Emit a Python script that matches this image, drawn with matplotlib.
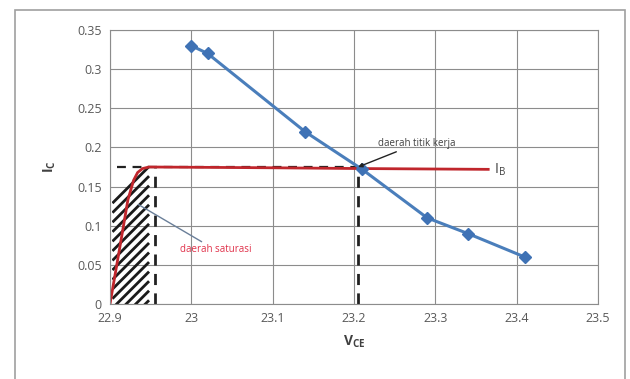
import numpy as np
import matplotlib.pyplot as plt
from matplotlib.patches import Rectangle

# load line points (Vce, Ic)
vce = [23.0, 23.02, 23.14, 23.21, 23.29, 23.34, 23.41]
ic = [0.33, 0.32, 0.22, 0.172, 0.11, 0.09, 0.06]

# base current curve
ib_vce = [22.9, 22.912, 22.922, 22.929, 22.934, 22.94, 22.948, 23.1, 23.21, 23.365]
ib_ic = [0.0, 0.072, 0.133, 0.158, 0.168, 0.173, 0.175, 0.174, 0.173, 0.172]

# operating point
q_vce = 23.205
q_ic = 0.175
sat_vce = 22.955

x_ticks = [22.9, 23.0, 23.1, 23.2, 23.3, 23.4, 23.5]
x_labels = ['22.9', '23', '23.1', '23.2', '23.3', '23.4', '23.5']
y_ticks = [0, 0.05, 0.1, 0.15, 0.2, 0.25, 0.3, 0.35]
y_labels = ['0', '0.05', '0.1', '0.15', '0.2', '0.25', '0.3', '0.35']


def main():
    plt.rcParams['font.family'] = ['Open Sans', 'DejaVu Sans']
    plt.rcParams['mathtext.default'] = 'regular'
    fig = plt.figure(figsize=(6.3, 3.79), dpi=100)
    fig.patches.append(Rectangle((15 / 630, -0.05), 610 / 630, 1 - 10 / 379 + 0.05,
                                 transform=fig.transFigure, fill=False,
                                 edgecolor='#a0a0a0', linewidth=1.2))
    ax = fig.add_axes([110 / 630, 75 / 379, 488 / 630, 274 / 379])

    ax.set_xlim(22.9, 23.5)
    ax.set_ylim(0, 0.35)
    ax.set_xticks(x_ticks, x_labels)
    ax.set_yticks(y_ticks, y_labels)
    ax.tick_params(colors='#595959', labelsize=9, length=0, pad=6)
    ax.grid(True, color='#8c8c8c', linewidth=0.8)
    ax.set_axisbelow(True)
    for s in ax.spines.values():
        s.set_color('#8c8c8c')
        s.set_linewidth(0.8)

    # hatched saturation region: 45 degree strokes, cut at the bottom axis
    box = Rectangle((22.902, 0.0), 0.047, 0.2, facecolor='none', linewidth=0)
    ax.add_patch(box)
    slope = (488 / 0.6) / (274 / 0.35)
    hx = np.array([22.903, 22.948])
    for off in np.arange(-0.042, 0.135, 0.0122):
        ln, = ax.plot(hx, off + (hx - hx[0]) * slope, color='#1a1a1a', lw=2.0,
                      solid_capstyle='butt')
        ln.set_clip_path(box)

    # dashed guide lines
    ax.plot([22.909, q_vce], [q_ic, q_ic], color='#222222', lw=1.6, ls=(0, (4, 3)))
    ax.plot([sat_vce, sat_vce], [0, q_ic], color='#222222', lw=2, ls=(0, (4, 3)))
    ax.plot([q_vce, q_vce], [0, q_ic], color='#222222', lw=2, ls=(0, (4, 3)))

    ax.plot(ib_vce, ib_ic, color='#c0262c', lw=2)
    ax.plot(vce, ic, color='#4a7ebb', lw=2.2, marker='D', markersize=6,
            markerfacecolor='#3f72b5', markeredgecolor='#3f72b5')

    ax.annotate('daerah titik kerja', xy=(q_vce, q_ic), xytext=(23.23, 0.205),
                fontsize=7, color='#404040', va='center',
                arrowprops=dict(arrowstyle='-|>', color='#222222', lw=1,
                                mutation_scale=6, shrinkA=0, shrinkB=0))
    ax.annotate('daerah saturasi', xy=(22.935, 0.127), xytext=(22.986, 0.069),
                fontsize=7, color='#e0314a', va='center',
                arrowprops=dict(arrowstyle='-', color='#6a7f99', lw=1,
                                shrinkA=0, shrinkB=0))
    ax.text(23.372, 0.172, 'I$_B$', fontsize=10, color='#404040', va='center')

    ax.set_ylabel('I$_C$', fontsize=10, fontweight='bold', color='#404040', labelpad=14)
    ax.set_xlabel('V$_{CE}$', fontsize=10, fontweight='bold', color='#404040', labelpad=6)

    fig.savefig('out.png', dpi=100)


if __name__ == "__main__":
    main()
